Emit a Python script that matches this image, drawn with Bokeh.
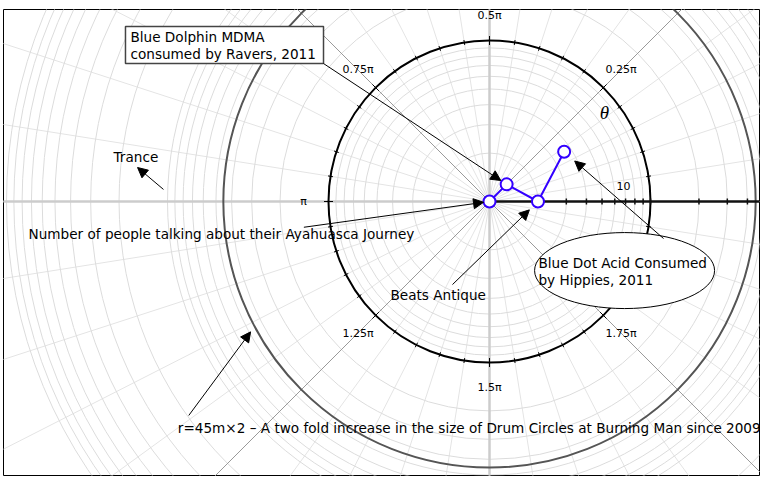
import numpy as np
from bokeh.plotting import figure
from bokeh.models import Range1d, Label, Arrow, NormalHead
from bokeh.embed import file_html
from bokeh.resources import INLINE

# ---------------- data ----------------
# points of the series (modulus r, angle theta in units of pi)
point_r = [1.0, 1.414, 2.0, 3.606]
point_theta = [0.0, 0.25, 0.0, 0.187]

# radial (log) axis
radial_tick_values = [2, 3, 4, 5, 6, 7, 8, 9, 10, 20, 30, 40]
radial_tick_labels = ["10"]
radial_tick_label_values = [10]
grid_circle_values = [2, 3, 4, 5, 6, 7, 8, 9,
                      20, 30, 40, 50, 60, 70, 80, 90, 100,
                      200, 300, 400, 500, 600, 700, 800, 900, 1000]
axis_circle_value = 10
drum_circle_value = 45

# angular axis (units of pi)
theta_label_values = [0.25, 0.5, 0.75, 1.0, 1.25, 1.5, 1.75]
theta_labels = ["0.25\u03c0", "0.5\u03c0", "0.75\u03c0", "\u03c0", "1.25\u03c0", "1.5\u03c0", "1.75\u03c0"]
theta_minor_step = 0.05
theta_major_step = 0.25

# ---------------- geometry ----------------
PX = 161.0            # pixels per decade
W, H = 762, 480
FL, FT, FR, FB = 3, 9, 759, 475   # frame edges (canvas pixels)
CX, CY = 489, 201     # origin (canvas pixels)
BLUE = "#3300ff"
FONT = "DejaVu Sans"
FS = "13.6px"


def pol(r, th):
    u = np.log10(np.asarray(r, dtype=float))
    t = np.asarray(th, dtype=float) * np.pi
    return u * np.cos(t), u * np.sin(t)


p = figure(width=W, height=H,
           x_range=Range1d((FL - CX) / PX, (FR - CX) / PX),
           y_range=Range1d((CY - FB) / PX, (CY - FT) / PX),
           x_axis_type=None, y_axis_type=None,
           output_backend="svg", toolbar_location=None,
           min_border_left=FL, min_border_top=FT,
           min_border_right=W - FR, min_border_bottom=H - FB)
p.outline_line_color = "black"
p.outline_line_width = 1
p.background_fill_color = "white"
p.border_fill_color = "white"

R_FAR = 4.0
# minor radial grid lines
th_minor = np.arange(0, 2, theta_minor_step)
p.segment(x0=0, y0=0, x1=R_FAR * np.cos(th_minor * np.pi), y1=R_FAR * np.sin(th_minor * np.pi),
          line_color="#e4e4e4", line_width=1)
# concentric grid circles
gr = np.log10(grid_circle_values)
p.circle(x=np.zeros(len(gr)), y=np.zeros(len(gr)), radius=gr, fill_color=None,
         line_color="#dcdcdc", line_width=1)
# diagonal major lines
th_diag = np.array([0.25, 0.75, 1.25, 1.75])
p.segment(x0=0, y0=0, x1=R_FAR * np.cos(th_diag * np.pi), y1=R_FAR * np.sin(th_diag * np.pi),
          line_color="#9a9a9a", line_width=1)
# main axes lines (light, thick)
th_ax = np.array([0.5, 1.0, 1.5])
p.segment(x0=0, y0=0, x1=R_FAR * np.cos(th_ax * np.pi), y1=R_FAR * np.sin(th_ax * np.pi),
          line_color="#cccccc", line_width=2.5)
# drum circle (r=45)
p.circle(x=[0], y=[0], radius=[float(np.log10(drum_circle_value))], fill_color=None,
         line_color="#555555", line_width=2)
# angular axis circle (r=10)
ra = float(np.log10(axis_circle_value))
p.circle(x=[0], y=[0], radius=[ra], fill_color=None, line_color="black", line_width=2)

# angular ticks
th_t = np.arange(0, 2, theta_minor_step)
is_major = np.isclose(np.mod(th_t + 1e-9, theta_major_step), 0, atol=1e-6)
inner = np.where(is_major, ra - 4.5 / PX, ra - 2.5 / PX)
outer = np.where(is_major, ra + 4.5 / PX, ra + 2.5 / PX)
p.segment(x0=inner * np.cos(th_t * np.pi), y0=inner * np.sin(th_t * np.pi),
          x1=outer * np.cos(th_t * np.pi), y1=outer * np.sin(th_t * np.pi),
          line_color="black", line_width=1)

# radial axis (theta = 0)
p.segment(x0=[0], y0=[0], x1=[R_FAR], y1=[0], line_color="#111111", line_width=2.5)
rt = np.log10(radial_tick_values)
p.segment(x0=rt, y0=-3 / PX, x1=rt, y1=3 / PX, line_color="#111111", line_width=1.5)

# angular tick labels
LR = 186 / PX
for v, txt in zip(theta_label_values, theta_labels):
    p.add_layout(Label(x=float(LR * np.cos(v * np.pi)), y=float(LR * np.sin(v * np.pi)), text=txt,
                       text_align="center", text_baseline="middle",
                       text_font=FONT, text_font_size="11px", text_color="black"))
# radial tick label
for v, txt in zip(radial_tick_label_values, radial_tick_labels):
    p.add_layout(Label(x=float(np.log10(v)), y=0, x_offset=-27, y_offset=16, text=txt,
                       text_align="center", text_baseline="middle",
                       text_font=FONT, text_font_size="11px", text_color="black"))
# theta symbol
p.add_layout(Label(x=0.714, y=0.553, text="\u03b8", text_align="center", text_baseline="middle",
                   text_font="Liberation Serif", text_font_style="italic",
                   text_font_size="19px", text_color="black"))

# ---------------- series ----------------
px_, py_ = pol(point_r, point_theta)
p.line(px_, py_, line_color=BLUE, line_width=2)
p.scatter(px_, py_, marker="circle", size=12, fill_color="white", line_color=BLUE, line_width=2)


# ---------------- annotations ----------------
def lab(x, y, txt):
    p.add_layout(Label(x=x, y=y, y_offset=6, text=txt, text_align="left",
                       text_baseline="alphabetic",
                       text_font=FONT, text_font_size=FS, text_color="black"))


def arrow(x0, y0, x1, y1, gap=0.0):
    x1, y1 = float(x1), float(y1)
    dx, dy = x1 - x0, y1 - y0
    d = float(np.hypot(dx, dy))
    x1 -= dx / d * gap / PX
    y1 -= dy / d * gap / PX
    p.add_layout(Arrow(x_start=x0, y_start=y0, x_end=x1, y_end=y1, line_color="black",
                       line_width=1, end=NormalHead(size=10, fill_color="black",
                                                     line_color="black")))


# Blue Dolphin box
p.quad(left=[-2.261], right=[-1.031], top=[1.087], bottom=[0.857], fill_color="white",
       line_color="#444444", line_width=1.5)
lab(-2.230, 0.983, "Blue Dolphin MDMA")
lab(-2.230, 0.880, "consumed by Ravers, 2011")
arrow(-1.031, 0.857, px_[1], py_[1], gap=7)

# Trance
lab(-2.335, 0.240, "Trance")
arrow(-2.025, 0.075, -2.186, 0.211)

# Ayahuasca
lab(-2.863, -0.242, "Number of people talking about their Ayahuasca Journey")
arrow(-1.153, -0.160, px_[0], py_[0], gap=6)

# Beats Antique
lab(-0.615, -0.615, "Beats Antique")
arrow(-0.230, -0.516, px_[2], py_[2], gap=12)

# Blue Dot ellipse
p.ellipse(x=[0.839], y=[-0.429], width=[1.118], height=[0.472], fill_color="white",
          line_color="black", line_width=1)
lab(0.304, -0.418, "Blue Dot Acid Consumed")
lab(0.304, -0.522, "by Hippies, 2011")
arrow(1.081, -0.230, px_[3], py_[3], gap=14)

# Drum circles
lab(-1.936, -1.443, "r=45m\u00d72 \u2013 A two fold increase in the size of Drum Circles at Burning Man since 2009")
dr = float(np.log10(drum_circle_value)) + 6 / PX
dth = 1.159 * np.pi
arrow(-1.868, -1.329, dr * np.cos(dth), dr * np.sin(dth))

open("out.html", "w").write(file_html(p, INLINE))
